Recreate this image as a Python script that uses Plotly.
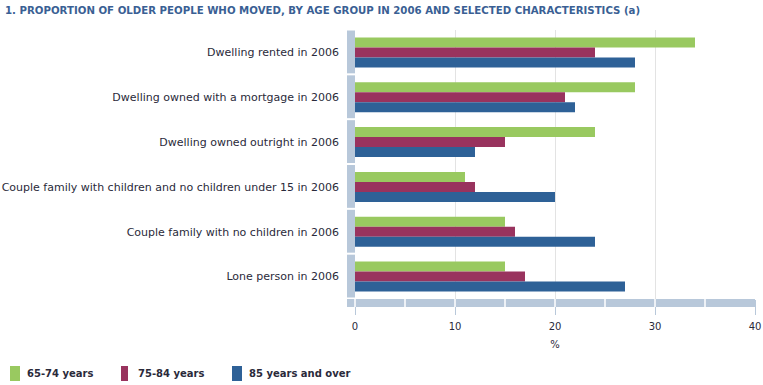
import plotly.graph_objects as go

categories = [
    "Dwelling rented in 2006",
    "Dwelling owned with a mortgage in 2006",
    "Dwelling owned outright in 2006",
    "Couple family with children and no children under 15 in 2006",
    "Couple family with no children in 2006",
    "Lone person in 2006",
]
series_names = ["65-74 years", "75-84 years", "85 years and over"]
vals_65_74 = [34, 28, 24, 11, 15, 15]
vals_75_84 = [24, 21, 15, 12, 16, 17]
vals_85_plus = [28, 22, 12, 20, 24, 27]
x_ticks = [0, 10, 20, 30, 40]

colors = ["#99C960", "#99335E", "#2E6197"]
WALL = "#B8C8DA"
TXT = "#2A2A3A"
FONT = "DejaVu Sans"

W, H = 763, 385
L, R, T, B = 355, 8, 30, 86
PW, PH = W - L - R, H - T - B


def px(xp):
    return (xp - L) / PW


def py(yp):
    return (H - B - yp) / PH


fig = go.Figure()
for name, vals, c in zip(series_names, [vals_65_74, vals_75_84, vals_85_plus], colors):
    fig.add_trace(go.Bar(
        y=categories, x=vals, name=name, orientation="h",
        marker=dict(color=c, line=dict(width=0)), showlegend=False,
    ))

shapes = []
n = len(categories)
for i in range(n):
    y_top = 1 - i / n
    y_bot = 1 - (i + 1) / n
    shapes.append(dict(type="rect", xref="paper", yref="paper",
                       x0=px(347), x1=px(355), y0=y_bot + 1.5 / PH, y1=y_top - 0.5 / PH,
                       fillcolor=WALL, line=dict(width=0), layer="above"))
shapes.append(dict(type="rect", xref="paper", yref="paper",
                   x0=px(347), x1=1.0, y0=py(307), y1=py(299),
                   fillcolor=WALL, line=dict(width=0), layer="above"))
xmax = x_ticks[-1]
for k in range(0, 8):
    xv = k * 5
    shapes.append(dict(type="line", xref="paper", yref="paper",
                       x0=xv / xmax, x1=xv / xmax, y0=py(307), y1=py(299),
                       line=dict(color="white", width=1.5), layer="above"))

annotations = []
leg_sq = [(10, 20), (121, 128), (232, 242)]
leg_txt = [25, 136, 247]
for (a, b_), tx, c, name in zip(leg_sq, leg_txt, colors, series_names):
    shapes.append(dict(type="rect", xref="paper", yref="paper",
                       x0=px(a), x1=px(b_), y0=py(381), y1=py(366),
                       fillcolor=c, line=dict(width=0)))
    annotations.append(dict(xref="paper", yref="paper", x=px(tx), y=py(373.5),
                            text="<b>%s</b>" % name, showarrow=False,
                            xanchor="left", yanchor="middle",
                            font=dict(family=FONT, size=10, color=TXT)))

fig.update_layout(
    width=W, height=H,
    margin=dict(l=L, r=R, t=T, b=B, pad=0),
    paper_bgcolor="white", plot_bgcolor="white",
    barmode="group", bargap=0.33, bargroupgap=0,
    title=dict(text="<b>1. PROPORTION OF OLDER PEOPLE WHO MOVED, BY AGE GROUP IN 2006 AND SELECTED CHARACTERISTICS (a)</b>",
               x=5 / W, xanchor="left", y=1 - 10 / H, yanchor="middle",
               font=dict(family=FONT, size=10.2, color="#3A5F94")),
    font=dict(family=FONT, size=11, color=TXT),
    shapes=shapes, annotations=annotations,
    xaxis=dict(range=[0, 40], tickvals=x_ticks, showgrid=True, gridcolor="#E3E3E3",
               gridwidth=1, zeroline=False, showline=False, automargin=False,
               ticks="outside", ticklen=15, tickcolor=WALL, tickwidth=1,
               ticklabelstandoff=3,
               tickfont=dict(family=FONT, size=10, color=TXT),
               title=dict(text="%", font=dict(family=FONT, size=10, color=TXT), standoff=9)),
    yaxis=dict(autorange="reversed", showgrid=False, zeroline=False, showline=False,
               ticks="", ticklabelstandoff=15, automargin=False,
               tickfont=dict(family=FONT, size=11, color=TXT)),
)

fig.write_html("out.html", config={"displayModeBar": False},
               post_script="document.body.style.margin='0';")
